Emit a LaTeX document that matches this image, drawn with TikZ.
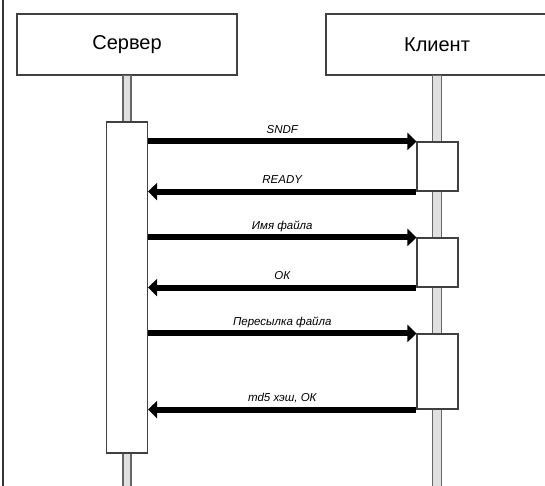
\documentclass[tikz,border=0pt]{standalone}
\usepackage{fontspec}
\setmainfont{Liberation Sans}
\usetikzlibrary{arrows.meta}
\usetikzlibrary{positioning}

\begin{document}
\begin{tikzpicture}[x=1pt, y=-1pt,
    actor/.style={draw=black!75, line width=1.2pt, minimum width=220pt, minimum height=61pt, font=\fontsize{20}{24}\selectfont},
    lifeline/.style={draw=black!60, fill=black!12, line width=1.1pt},
    activ/.style={draw=black!75, line width=1.1pt, fill=white, minimum width=41pt, inner sep=0pt},
    msg/.style={line width=6pt, -{Triangle[length=9pt,width=17pt]}},
    lbl/.style={anchor=base, yshift=8pt, font=\fontsize{11.5}{13}\selectfont\itshape}]
  \useasboundingbox (0,0) rectangle (545,486);
  \draw[line width=1.2pt, black!80] (3,0) -- (3,486);
  \node[actor] (srv) at (127,44.5) {Сервер};
  \node[actor, minimum width=222pt] (cli) at (437,44.5) {Клиент};
  \draw[lifeline] ([xshift=-4pt]srv.south) rectangle ([xshift=4pt]srv.south |- 0,492);
  \draw[lifeline] ([xshift=-4.5pt]cli.south) rectangle ([xshift=4.5pt]cli.south |- 0,492);
  \node[activ, minimum height=331pt] (act0) at (127,287.5) {};
  \node[activ, minimum height=49pt] (c1) at (437.5,166.5) {};
  \node[activ, minimum height=49pt] (c2) at (437.5,262.5) {};
  \node[activ, minimum height=75pt] (c3) at (437.5,371.5) {};
  \draw[msg] (act0.east |- c1.north) -- node[lbl] {SNDF} (c1.north west);
  \draw[msg] (c1.south west) -- node[lbl] {READY} (act0.east |- c1.south);
  \draw[msg] (act0.east |- c2.north) -- node[lbl] {Имя файла} (c2.north west);
  \draw[msg] (c2.south west) -- node[lbl] {ОК} (act0.east |- c2.south);
  \draw[msg] (act0.east |- c3.north) -- node[lbl] {Пересылка файла} (c3.north west);
  \draw[msg] (c3.south west) -- node[lbl] {md5 хэш, ОК} (act0.east |- c3.south);
\end{tikzpicture}
\end{document}
